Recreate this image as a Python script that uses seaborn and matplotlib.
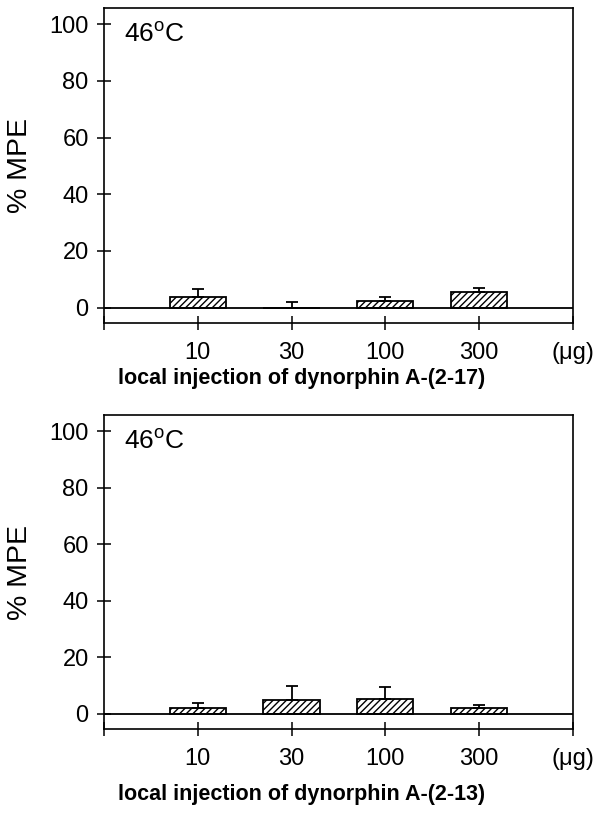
import numpy as np
import pandas as pd
import matplotlib
matplotlib.use("Agg")
import matplotlib.pyplot as plt
import seaborn as sns

sns.set_style("white")
plt.rcParams['font.family'] = ['Liberation Sans', 'DejaVu Sans']
plt.rcParams['mathtext.fontset'] = 'custom'
plt.rcParams['mathtext.rm'] = 'Liberation Sans'
plt.rcParams['hatch.linewidth'] = 1.0
for k in ['text.color', 'axes.labelcolor', 'xtick.color', 'ytick.color']:
    plt.rcParams[k] = 'black'

# data
doses = ['10', '30', '100', '300']
mpe_217 = [3.9, 0.0, 2.5, 5.6]
sem_217 = [2.8, 2.1, 1.4, 1.4]
mpe_213 = [2.1, 4.9, 5.3, 2.0]
sem_213 = [1.8, 4.9, 4.2, 1.0]
titles = ['local injection of dynorphin A-(2-17)', 'local injection of dynorphin A-(2-13)']
yticks = [0, 20, 40, 60, 80, 100]

fig = plt.figure(figsize=(6.03, 8.19), dpi=100)
ax1 = fig.add_axes([0.1725, 0.606, 0.7775, 0.384])
ax2 = fig.add_axes([0.1725, 0.110, 0.7775, 0.383])

for ax, vals, errs, title, ylab in [(ax1, mpe_217, sem_217, titles[0], 0.538),
                                    (ax2, mpe_213, sem_213, titles[1], 0.030)]:
    df = pd.DataFrame({'dose': doses, 'mpe': vals})
    sns.barplot(data=df, x='dose', y='mpe', order=doses, ax=ax, errorbar=None,
                color='white', edgecolor='black', linewidth=1.3, width=0.6,
                hatch='/////')
    for p in ax.patches:
        p.set_facecolor('white')
    # upper error bars only
    ax.errorbar(np.arange(len(doses)), vals, yerr=[np.zeros(len(errs)), errs],
                fmt='none', ecolor='black', elinewidth=1.3, capsize=4, capthick=1.3)
    ax.axhline(0, color='black', lw=1.3, zorder=3)
    ax.set_xlim(-1, 4)
    ax.set_ylim(-5.3, 105.6)
    ax.set_yticks(yticks)
    ax.set_yticklabels([str(t) for t in yticks], fontsize=17)
    ax.set_xticks(range(-1, 5))
    ax.set_xticklabels([''] + doses + ['(\u03bcg)'], fontsize=17)
    ax.tick_params(axis='both', direction='inout', length=10, width=1.1,
                   color='black', bottom=True, left=True, pad=6)
    ax.tick_params(axis='x', pad=9)
    for s in ax.spines.values():
        s.set_visible(True)
        s.set_color('black')
        s.set_linewidth(1.2)
    ax.set_xlabel('')
    ax.set_ylabel('% MPE', fontsize=20.5, labelpad=12)
    ax.text(0.042, 0.955, '46$^{\\mathrm{o}}$C', transform=ax.transAxes,
            fontsize=19, va='top', ha='left')
    fig.text(0.5, ylab, title, ha='center', va='center', fontsize=15.5,
             fontweight='bold')

fig.savefig('out.png', dpi=100)
